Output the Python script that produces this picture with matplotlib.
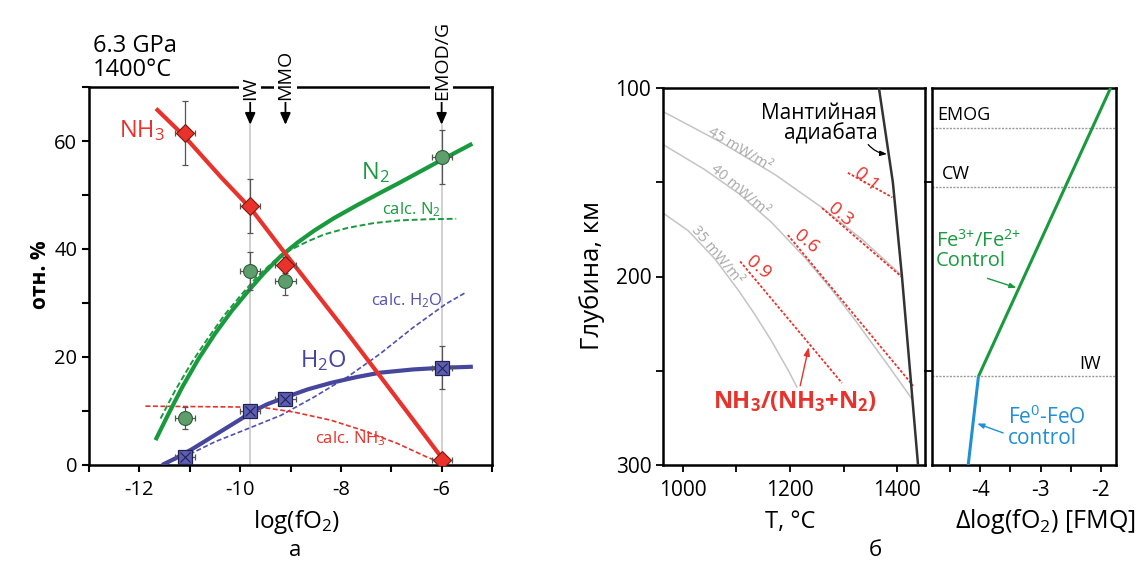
import matplotlib
matplotlib.use("Agg")
import matplotlib.pyplot as plt
from matplotlib.ticker import MultipleLocator, FixedLocator

plt.rcParams['font.family'] = ['Open Sans', 'DejaVu Sans']
plt.rcParams['axes.linewidth'] = 1.8
plt.rcParams['axes.unicode_minus'] = False

# --- panel a: fluid composition vs log fO2 at 6.3 GPa, 1400 C
fo2_exp = [-11.1, -9.8, -9.1, -6.0]
nh3_exp = [61.5, 48.0, 37.0, 1.0]
nh3_err = [6.0, 5.0, 1.5, 1.0]
n2_exp = [8.7, 36.0, 34.0, 57.0]
n2_err = [2.0, 3.5, 2.5, 5.0]
h2o_exp = [1.5, 10.0, 12.3, 18.0]
h2o_err = [0.8, 0.8, 0.8, 4.0]
fo2_err = 0.2

nh3_fit_x = [-11.67, -11.12, -10.37, -9.78, -9.19, -8.53, -7.87, -7.25, -6.56, -5.97]
nh3_fit_y = [66.0, 61.0, 53.2, 47.4, 40.2, 32.3, 24.4, 16.8, 8.3, 1.0]
n2_fit_x = [-11.68, -11.42, -11.15, -10.83, -10.5, -10.17, -9.84, -9.52, -9.19, -8.86,
            -8.53, -8.14, -7.68, -7.22, -6.83, -6.0, -5.39]
n2_fit_y = [4.6, 9.5, 14.4, 19.6, 24.3, 28.5, 32.2, 35.6, 38.7, 41.2,
            43.4, 45.7, 48.1, 50.4, 52.3, 56.5, 59.5]
h2o_fit_x = [-11.55, -11.29, -10.96, -10.63, -10.3, -9.97, -9.78, -9.45, -9.11, -8.66,
             -8.2, -7.68, -7.22, -6.56, -6.0, -5.38]
h2o_fit_y = [0.0, 1.2, 2.9, 4.8, 6.7, 8.6, 9.8, 11.3, 12.5, 14.0,
             15.2, 16.3, 17.1, 17.7, 18.0, 18.2]

calc_n2_x = [-11.58, -11.29, -10.96, -10.63, -10.3, -9.97, -9.65, -9.32, -8.99, -8.66,
             -8.33, -7.87, -7.35, -6.83, -6.3, -5.71]
calc_n2_y = [8.6, 13.8, 19.0, 23.6, 27.9, 31.6, 35.0, 37.8, 39.9, 41.4,
             42.7, 43.9, 44.8, 45.3, 45.5, 45.6]
calc_h2o_x = [-11.0, -10.5, -9.84, -9.19, -8.53, -7.87, -7.22, -6.56, -5.92, -5.53]
calc_h2o_y = [2.0, 4.3, 6.75, 9.2, 12.6, 16.3, 20.6, 25.5, 29.8, 31.9]
calc_nh3_x = [-11.88, -9.58, -8.93, -8.2, -7.56, -6.88, -6.3, -6.0]
calc_nh3_y = [10.9, 10.7, 9.8, 8.3, 6.4, 4.0, 1.5, 0.4]

buffer_names = ['IW', 'MMO', 'EMOD/G']
buffer_fo2 = [-9.8, -9.1, -6.0]

# --- panel b: geotherms, adiabat and NH3/(NH3+N2) isopleths
adiabat_t = [1366, 1392, 1409, 1424, 1439]
adiabat_d = [100, 150, 200, 250, 300]
geo45_t = [963, 1072, 1172, 1259, 1335, 1409]
geo45_d = [112.5, 128.9, 145.9, 163.3, 180.4, 199.6]
geo40_t = [963, 1041, 1105, 1166, 1228, 1278, 1321, 1383, 1428]
geo40_d = [130.0, 143.3, 156.1, 171.4, 190.0, 207.0, 222.9, 247.1, 265.1]
geo35_t = [963, 1010, 1060, 1104, 1135, 1166, 1197, 1213]
geo35_d = [166.3, 175.7, 190.7, 207.4, 220.4, 234.4, 249.9, 258.7]
geotherm_names = ['45 mW/m²', '40 mW/m²', '35 mW/m²']

iso_values = ['0.1', '0.3', '0.6', '0.9']
iso_t = [[1308, 1391], [1260, 1409], [1196, 1430], [1107, 1297]]
iso_d = [[145, 158], [163.7, 200.3], [178, 258], [192, 256.5]]

fe3_fo2 = [-1.84, -4.03]
fe3_d = [100, 253]
fe0_fo2 = [-4.03, -4.2]
fe0_d = [253, 300]
redox_names = ['EMOG', 'CW', 'IW']
redox_d = [121, 152.5, 253]

red = '#e8322b'
green = '#1a9a3e'
blue = '#46469c'
sky = '#1f8fd6'

fig = plt.figure(figsize=(11.42, 5.72), dpi=100)


def fx(px):
    return px / 1142


def fy(py):
    return 1 - py / 572


# ---------- panel a
ax = fig.add_axes([fx(89), fy(465), fx(492 - 89), (465 - 87) / 572])
ax.set_xlim(-13, -5)
ax.set_ylim(0, 70)

for x in [-9.8, -6.0]:
    ax.plot([x, x], [0, 63], color='#c8c8c8', lw=1.2, zorder=1)

ax.plot(calc_n2_x, calc_n2_y, color=green, lw=1.4, ls=(0, (3, 1.5)), zorder=2)
ax.plot(calc_h2o_x, calc_h2o_y, color='#5050b0', lw=1.2, ls=(0, (3, 1.5)), zorder=2)
ax.plot(calc_nh3_x, calc_nh3_y, color=red, lw=1.2, ls=(0, (3, 1.5)), zorder=2)

ax.plot(n2_fit_x, n2_fit_y, color=green, lw=3, solid_capstyle='butt', zorder=3)
ax.plot(h2o_fit_x, h2o_fit_y, color=blue, lw=3, solid_capstyle='butt', zorder=3)
ax.plot(nh3_fit_x, nh3_fit_y, color=red, lw=3, solid_capstyle='butt', zorder=3)

eb = dict(fmt='none', ecolor='#555555', elinewidth=0.9, capsize=2.5, capthick=0.9, zorder=4)
ax.errorbar(fo2_exp, nh3_exp, yerr=nh3_err, xerr=fo2_err, **eb)
ax.errorbar(fo2_exp, n2_exp, yerr=n2_err, xerr=fo2_err, **eb)
ax.errorbar(fo2_exp, h2o_exp, yerr=h2o_err, xerr=fo2_err, **eb)
ax.plot(fo2_exp, n2_exp, 'o', ms=10, mfc='#5e9e6c', mec='#2e5e3a', mew=0.8, zorder=5)
ax.plot(fo2_exp, h2o_exp, 's', ms=10, mfc='#5d5db5', mec='#22224e', mew=0.9, zorder=5)
ax.plot(fo2_exp, h2o_exp, 'x', ms=7, mec='#22224e', mew=0.8, zorder=6)
ax.plot(fo2_exp, nh3_exp, 'D', ms=9, mfc=red, mec='#7a1a10', mew=0.8, zorder=5)

for name, x in zip(buffer_names, buffer_fo2):
    ax.annotate(name, xy=(x, 63.0), xytext=(x, 67.6), rotation=90,
                ha='center', va='bottom', fontsize=14, annotation_clip=False,
                bbox=dict(fc='white', ec='none', pad=1.5),
                arrowprops=dict(arrowstyle='-|>,head_length=0.5,head_width=0.22',
                                color='black', lw=1.3, shrinkA=0, shrinkB=0),
                zorder=7)

ax.text(-11.94, 62, 'NH$\\mathregular{_3}$', color=red, fontsize=17, ha='center', va='center')
ax.text(-7.32, 54.2, 'N$\\mathregular{_2}$', color=green, fontsize=17, ha='center', va='center')
ax.text(-8.34, 19.3, 'H$\\mathregular{_2}$O', color=blue, fontsize=17, ha='center', va='center')
ax.text(-6.6, 47.2, 'calc. N$\\mathregular{_2}$', color=green, fontsize=12, ha='center', va='center')
ax.text(-6.69, 30.5, 'calc. H$\\mathregular{_2}$O', color='#5050b0', fontsize=12, ha='center', va='center')
ax.text(-7.81, 4.9, 'calc. NH$\\mathregular{_3}$', color=red, fontsize=12, ha='center', va='center')

ax.xaxis.set_major_locator(MultipleLocator(2))
ax.xaxis.set_minor_locator(MultipleLocator(1))
ax.yaxis.set_major_locator(MultipleLocator(20))
ax.yaxis.set_minor_locator(MultipleLocator(10))
ax.tick_params(which='both', direction='out', length=5, width=1.5, labelsize=14.5)
ax.tick_params(axis='x', pad=6)

fig.text(fx(93), fy(58), '6.3 GPa\n1400°C', fontsize=17, ha='left', va='center', linespacing=0.95)
fig.text(fx(40), fy(275), 'отн. %', fontsize=15, fontweight='bold', rotation=90, ha='center', va='center')
fig.text(fx(296), fy(522), 'log(fO$\\mathregular{_2}$)', fontsize=17.5, ha='center', va='center')
fig.text(fx(295), fy(550), 'а', fontsize=16, ha='center', va='center')

# ---------- panel b, temperature part
ax2 = fig.add_axes([fx(663), fy(465), fx(925 - 663), (465 - 88) / 572])
ax2.set_xlim(963, 1452)
ax2.set_ylim(300, 100)

geo_style = dict(color='#c4c4c4', lw=1.1, zorder=1)
ax2.plot(geo45_t, geo45_d, **geo_style)
ax2.plot(geo40_t, geo40_d, **geo_style)
ax2.plot(geo35_t, geo35_d, **geo_style)
lbl_style = dict(color='#a8a8a8', fontsize=10.5, ha='center', va='center')
ax2.text(1106, 132.5, geotherm_names[0], rotation=-31, **lbl_style)
ax2.text(1106, 154.5, geotherm_names[1], rotation=-40, **lbl_style)
ax2.text(1063, 188.5, geotherm_names[2], rotation=-50, **lbl_style)

for val, t, d in zip(iso_values, iso_t, iso_d):
    ax2.plot(t, d, color=red, lw=1.3, ls=(0, (1.5, 1)), zorder=2)
    ax2.text(t[0] + 34, d[0] + 3.5, val, color=red, fontsize=13.5, rotation=-40,
             ha='center', va='center')

ax2.plot(adiabat_t, adiabat_d, color='#333333', lw=1.8, zorder=3)
ax2.text(1363, 119, 'Мантийная\nадиабата', fontsize=15, ha='right', va='center', linespacing=0.95)
ax2.annotate('', xy=(1381, 135), xytext=(1346, 130),
             arrowprops=dict(arrowstyle='-|>,head_length=0.4,head_width=0.15', color='black', lw=0.9,
                             connectionstyle='arc3,rad=0.2', shrinkA=0, shrinkB=0))

ax2.text(1209, 266.5, 'NH$\\mathregular{_3}$/(NH$\\mathregular{_3}$+N$\\mathregular{_2}$)', color=red,
         fontsize=17, fontweight='bold', ha='center', va='center')
ax2.annotate('', xy=(1235, 237.5), xytext=(1219, 258),
             arrowprops=dict(arrowstyle='-|>,head_length=0.5,head_width=0.18', color=red, lw=1.0,
                             shrinkA=0, shrinkB=0))

ax2.xaxis.set_major_locator(MultipleLocator(200))
ax2.xaxis.set_minor_locator(MultipleLocator(100))
ax2.yaxis.set_major_locator(MultipleLocator(100))
ax2.yaxis.set_minor_locator(MultipleLocator(50))
ax2.tick_params(which='both', direction='out', length=5, width=1.3, labelsize=15)
ax2.tick_params(axis='x', pad=6)

# ---------- panel b, redox part
ax3 = fig.add_axes([fx(932), fy(465), fx(1116 - 932), (465 - 88) / 572])
ax3.set_xlim(-4.8, -1.75)
ax3.set_ylim(300, 100)
for d in redox_d:
    ax3.axhline(d, color='#9a9a9a', lw=1.0, ls=(0, (1.5, 1)), zorder=1)
ax3.text(-4.72, redox_d[0] - 2, redox_names[0], fontsize=13, ha='left', va='bottom')
ax3.text(-4.64, redox_d[1] - 2, redox_names[1], fontsize=13, ha='left', va='bottom')
ax3.text(-2.0, redox_d[2] - 2, redox_names[2], fontsize=13, ha='right', va='bottom')

ax3.plot(fe3_fo2, fe3_d, color=green, lw=2.2, solid_capstyle='butt', zorder=3)
ax3.plot(fe0_fo2, fe0_d, color=sky, lw=2.2, solid_capstyle='butt', zorder=3)

ax3.text(-4.74, 186, 'Fe$\\mathregular{^{3{+}}}$/Fe$\\mathregular{^{2{+}}}$\nControl', color=green,
         fontsize=14.5, ha='left', va='center', linespacing=0.95)
ax3.annotate('', xy=(-3.4, 206), xytext=(-3.88, 201),
             arrowprops=dict(arrowstyle='-|>,head_length=0.4,head_width=0.15', color=green, lw=1.0,
                             shrinkA=0, shrinkB=0))
ax3.text(-3.54, 280, 'Fe$\\mathregular{^{0}}$-FeO\ncontrol', color=sky,
         fontsize=15, ha='left', va='center', linespacing=0.95)
ax3.annotate('', xy=(-4.05, 278), xytext=(-3.62, 283),
             arrowprops=dict(arrowstyle='-|>,head_length=0.4,head_width=0.15', color=sky, lw=1.0,
                             shrinkA=0, shrinkB=0))

ax3.xaxis.set_major_locator(MultipleLocator(1))
ax3.xaxis.set_minor_locator(MultipleLocator(0.5))
ax3.yaxis.set_major_locator(FixedLocator([150, 250]))
ax3.tick_params(axis='y', direction='out', length=6, width=1.3, labelleft=False)
ax3.tick_params(axis='x', which='both', direction='out', length=5, width=1.3, labelsize=15, pad=6)

fig.text(fx(592), fy(275), 'Глубина, км', fontsize=18.5, rotation=90, ha='center', va='center')
fig.text(fx(790), fy(522), 'T, °C', fontsize=17, ha='center', va='center')
fig.text(fx(1045), fy(522), 'Δlog(fO$\\mathregular{_2}$) [FMQ]', fontsize=18, ha='center', va='center')
fig.text(fx(875), fy(550), 'б', fontsize=16, ha='center', va='center')

fig.savefig('out.png', dpi=100)
